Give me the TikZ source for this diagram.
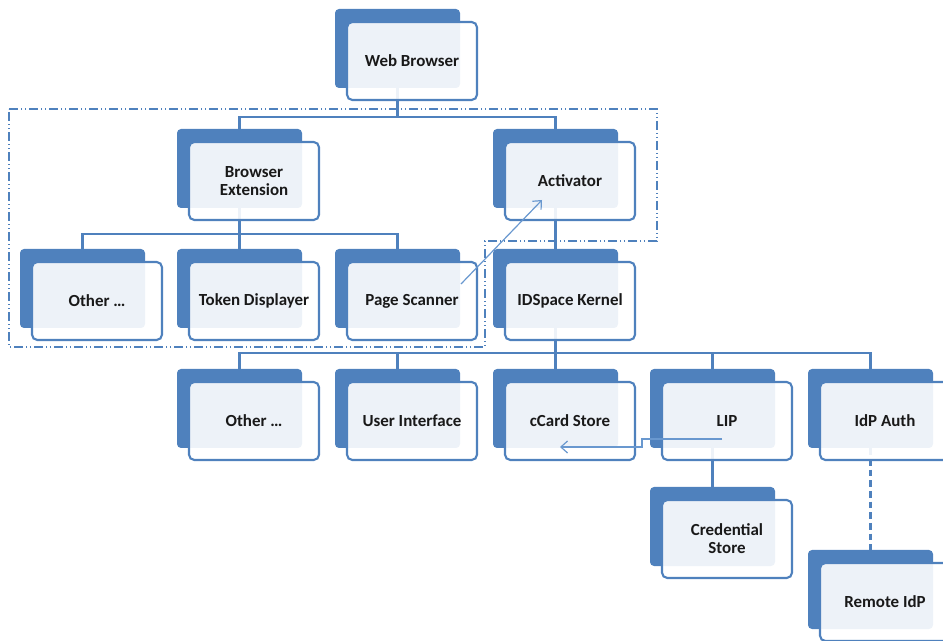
\documentclass[tikz,border=0pt]{standalone}
\usepackage{fontspec}
\setmainfont{Carlito}
\usetikzlibrary{calc,backgrounds,arrows.meta}
\definecolor{boxblue}{RGB}{79,129,189}
\definecolor{arrowblue}{RGB}{105,152,207}
\definecolor{textdark}{RGB}{25,25,25}

\begin{document}
\begin{tikzpicture}[x=0.75pt, y=-0.75pt,
	backbox/.style={fill=boxblue, rounded corners=3pt, minimum width=93.75pt, minimum height=59.25pt, inner sep=0pt},
	frontbox/.style={draw=boxblue, line width=1.6pt, fill=white, fill opacity=0.9, text opacity=1, rounded corners=4pt,
		minimum width=97.5pt, minimum height=58.5pt, inner sep=0pt, align=center, text=textdark,
		font=\bfseries\fontsize{12.7}{13.5}\selectfont},
	link/.style={boxblue, line width=1.7pt},
	hint/.style={arrowblue, line width=0.9pt, -{Straight Barb[length=5pt,width=9pt]}},
	zone/.style={boxblue, line width=0.9pt, dash pattern=on 7pt off 2pt on 1pt off 2pt on 1pt off 2pt}]
	\useasboundingbox (0,0) rectangle (943,641);
	\clip (0,0) rectangle (943,641);

	%% Boxes (back plate + front card)
	\foreach \n/\px/\py/\t in {web/412/61/Web Browser,
		bext/254/181/Browser\\Extension, act/570/181/Activator,
		oth1/97/301/Other \ldots, tok/254/301/Token Displayer, scan/412/301/Page Scanner, kern/570/301/IDSpace Kernel,
		oth2/254/421/Other \ldots, ui/412/421/User Interface, ccard/570/421/cCard Store, lip/727/421/LIP, idp/885/421/IdP Auth,
		cred/727/539/Credential\\Store, remote/885/602/Remote IdP}
	{
		\begin{pgfonlayer}{background}
			\node[backbox] (\n-b) at (\px-14.5,\py-12.5) {};
		\end{pgfonlayer}
		\node[frontbox] (\n) at (\px,\py) {\t};
	}

	%% Hierarchy lines
	\begin{pgfonlayer}{background}
		\draw[link] (web-b.south) -- ++(0,29);
		\draw[link] (bext-b.north) -- ++(0,-12) -| (act-b.north);
		\draw[link] (bext-b.south) -- (tok-b.north);
		\draw[link] (oth1-b.north) -- ++(0,-15) -| (scan-b.north);
		\draw[link] (act-b.south) -- (kern-b.north);
		\draw[link] (kern-b.south) -- (ccard-b.north);
		\draw[link] (oth2-b.north) -- ++(0,-16) -| (idp-b.north);
		\draw[link] (ui-b.north) -- ++(0,-16);
		\draw[link] (lip-b.north) -- ++(0,-16);
		\draw[link] (lip-b.south) -- (cred-b.north);
		\draw[link, dashed, dash pattern=on 5pt off 3pt] (idp-b.south) -- (remote-b.north);
	\end{pgfonlayer}

	%% Calls
	\draw[hint] ($(scan)+(49,-17)$) -- ($(act)+(-28,19)$);
	\draw[hint] ($(lip)+(-5,18)$) -- ++(-80,0) |- ($(ccard)+(-10,26)$);

	%% Browser side
	\draw[zone] (9,109) -- (657,109) -- (657,241) -- (485,241) -- (485,347) -- (9,347) -- cycle;
\end{tikzpicture}
\end{document}
